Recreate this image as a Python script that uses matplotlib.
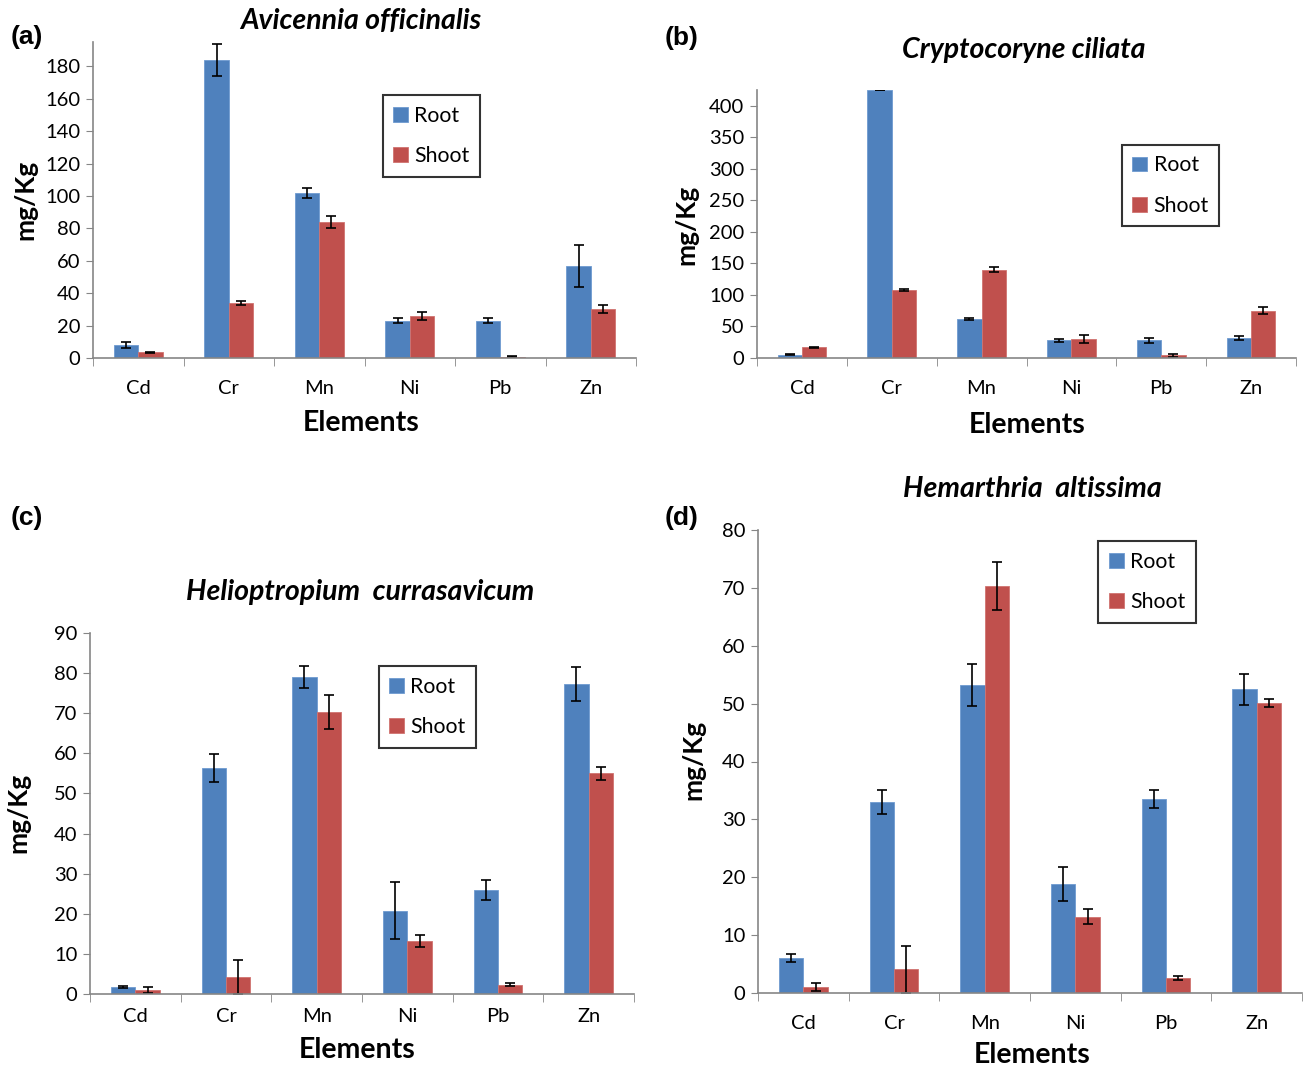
import numpy as np
import matplotlib.pyplot as plt

plt.rcParams['font.family'] = ['Lato', 'DejaVu Sans']

# ---------------------------
# DATA
# ---------------------------
elements = ['Cd', 'Cr', 'Mn', 'Ni', 'Pb', 'Zn']

a_root = [8, 184, 102, 23, 23, 57]
a_root_err = [2, 10, 3, 1.5, 1.5, 13]
a_shoot = [3.5, 34, 84, 26, 0.8, 30]
a_shoot_err = [0.5, 1, 3.5, 2.5, 0.3, 2.5]

b_root = [5, 425, 62, 28, 28, 32]
b_root_err = [1, 0, 2, 2, 4, 3]
b_shoot = [17, 108, 140, 30, 4, 75]
b_shoot_err = [0.5, 2, 4, 6, 2, 6]

c_root = [1.7, 56.3, 79, 20.8, 26, 77.3]
c_root_err = [0.3, 3.5, 2.7, 7, 2.5, 4.3]
c_shoot = [1, 4.2, 70.3, 13.2, 2.3, 55]
c_shoot_err = [0.7, 4.2, 4.2, 1.4, 0.4, 1.6]

d_root = [6, 33, 53.2, 18.8, 33.5, 52.5]
d_root_err = [0.7, 2.1, 3.6, 2.9, 1.6, 2.7]
d_shoot = [1, 4.1, 70.3, 13.2, 2.6, 50.1]
d_shoot_err = [0.7, 4.1, 4.1, 1.3, 0.3, 0.7]

BLUE = '#4F81BD'
RED = '#C0504D'
AXC = '#868686'

W, H = 1306, 1066
fig = plt.figure(figsize=(W / 100, H / 100), dpi=100)


def fx(px):
    return px / W


def fy(py):
    return 1 - py / H


def panel(box, root, root_err, shoot, shoot_err, ymax, yticks, leg_box, xpad=16):
    x0, y0, x1, y1 = box
    ax = fig.add_axes([fx(x0), fy(y1), fx(x1) - fx(x0), fy(y0) - fy(y1)])
    x = np.arange(len(elements))
    w = 0.27
    ekw = dict(ecolor='black', elinewidth=1.2, capsize=3.5, capthick=1.2)
    ax.bar(x - w / 2, root, w, color=BLUE, edgecolor='#6E9AD0', linewidth=0.6,
           yerr=root_err, error_kw=ekw, label='Root')
    ax.bar(x + w / 2, shoot, w, color=RED, edgecolor='#D07370', linewidth=0.6,
           yerr=shoot_err, error_kw=ekw, label='Shoot')
    ax.set_xlim(-0.5, len(elements) - 0.5)
    ax.set_ylim(0, ymax)
    ax.set_yticks(yticks)
    ax.set_xticks(x)
    ax.set_xticklabels(elements)
    ax.set_xticks(np.arange(-0.5, len(elements), 1.0), minor=True)
    ax.tick_params(axis='x', which='major', length=0, pad=xpad, labelsize=14.5)
    ax.tick_params(axis='x', which='minor', length=6, color=AXC, direction='out')
    ax.tick_params(axis='y', length=5, color=AXC, labelsize=14.5, pad=4)
    for s in ['top', 'right']:
        ax.spines[s].set_visible(False)
    for s in ['left', 'bottom']:
        ax.spines[s].set_color(AXC)
        ax.spines[s].set_linewidth(1.2)
    lx0, ly0, lx1, ly1 = leg_box
    leg = ax.legend(loc='center', bbox_to_anchor=(fx(lx0), fy(ly1), fx(lx1) - fx(lx0), fy(ly0) - fy(ly1)),
                    bbox_transform=fig.transFigure, fontsize=15.3, frameon=True, fancybox=False,
                    handlelength=0.7, handleheight=0.7, handletextpad=0.3, labelspacing=0.95,
                    borderpad=0.5)
    leg.get_frame().set_edgecolor('black')
    leg.get_frame().set_linewidth(1.5)
    return ax


panel((93, 42, 636, 358), a_root, a_root_err, a_shoot, a_shoot_err, 195,
      range(0, 181, 20), (383, 98, 480, 174))
panel((757, 90, 1296, 358), b_root, b_root_err, b_shoot, b_shoot_err, 425,
      range(0, 401, 50), (1125, 145, 1216, 226))
panel((90, 633, 634, 994), c_root, c_root_err, c_shoot, c_shoot_err, 90,
      range(0, 91, 10), (382, 664, 473, 750), xpad=10)
panel((758, 530, 1302, 993), d_root, d_root_err, d_shoot, d_shoot_err, 80,
      range(0, 81, 10), (1093, 536, 1201, 628))

# titles
tkw = dict(ha='center', va='center', fontsize=20.5, fontweight='bold', style='italic')
fig.text(fx(361), fy(21), 'Avicennia officinalis', **tkw)
fig.text(fx(1024), fy(50), 'Cryptocoryne ciliata', **tkw)
fig.text(fx(360), fy(592), 'Helioptropium  currasavicum', **tkw)
fig.text(fx(1032), fy(489), 'Hemarthria  altissima', **tkw)

# axis labels
ekw2 = dict(ha='center', va='center', fontsize=20.5, fontweight='bold')
fig.text(fx(361), fy(423), 'Elements', **ekw2)
fig.text(fx(1027), fy(425), 'Elements', **ekw2)
fig.text(fx(357), fy(1050), 'Elements', **ekw2)
fig.text(fx(1032), fy(1055), 'Elements', **ekw2)

ykw = dict(ha='center', va='center', fontsize=19, fontweight='bold', rotation=90)
fig.text(fx(25), fy(200), 'mg/Kg', **ykw)
fig.text(fx(686), fy(225), 'mg/Kg', **ykw)
fig.text(fx(18), fy(813), 'mg/Kg', **ykw)
fig.text(fx(693), fy(760), 'mg/Kg', **ykw)

# panel letters
pkw = dict(ha='left', va='center', fontsize=19, fontweight='bold', family='Liberation Sans')
fig.text(fx(11), fy(37), '(a)', **pkw)
fig.text(fx(665), fy(38), '(b)', **pkw)
fig.text(fx(11), fy(518), '(c)', **pkw)
fig.text(fx(665), fy(518), '(d)', **pkw)

fig.savefig('out.png', dpi=100)
